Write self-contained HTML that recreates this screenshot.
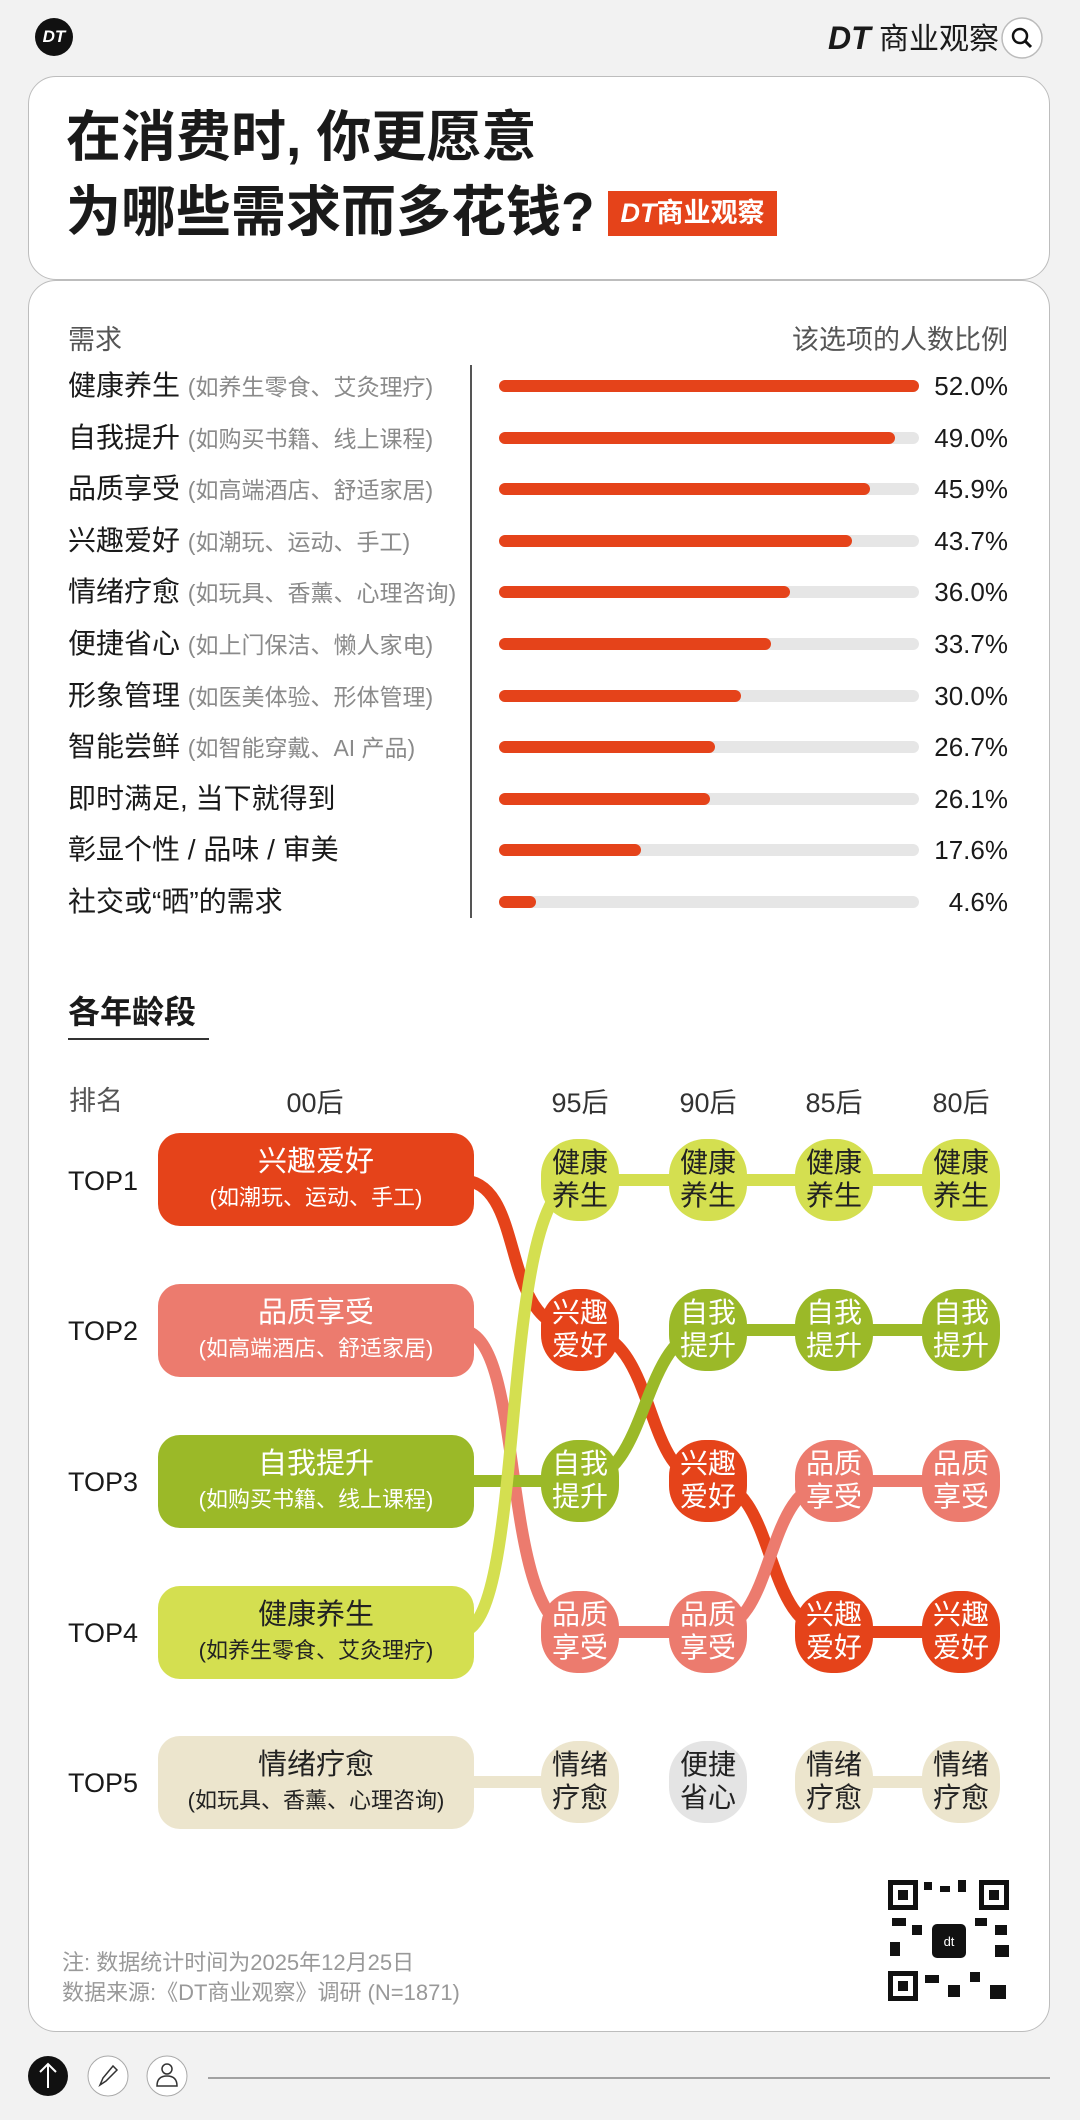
<!DOCTYPE html>
<html><head><meta charset="utf-8"><style>
*{margin:0;padding:0;box-sizing:border-box}
body{width:1080px;height:2120px;background:#f2f2f2;position:relative;overflow:hidden;font-family:"Liberation Sans","Noto Sans CJK SC",sans-serif;color:#1a1a1a}
.a{position:absolute;white-space:nowrap}
.card{position:absolute;left:28px;width:1022px;background:#fff;border:1.5px solid #bdbdbd;border-radius:28px}
.lab{position:absolute;left:68px;font-size:28px;line-height:32px}
.lab small{font-size:23px;color:#8a8a8a}
.trk{position:absolute;left:499px;width:420px;height:12px;background:#e6e6e6;border-radius:6px}
.bar{position:absolute;left:0;top:0;height:12px;background:#e5431a;border-radius:6px}
.val{position:absolute;right:72px;font-size:26px;line-height:30px}
</style></head><body>
<div class="a" style="left:35px;top:18px;width:38px;height:38px;border-radius:50%;background:#111;color:#fff;font-weight:bold;font-style:italic;font-size:17px;line-height:38px;text-align:center">DT</div>
<div class="a" style="left:828px;top:20px;font-size:30px;line-height:36px;font-weight:bold"><i style="font-size:32px">DT</i> <span style="font-weight:normal">商业观察</span></div>
<svg class="a" style="left:1000px;top:16px" width="44" height="44"><circle cx="22" cy="22" r="20" fill="#fff" stroke="#bbb" stroke-width="1.5"/><circle cx="20" cy="20" r="7" fill="none" stroke="#111" stroke-width="2.5"/><line x1="25" y1="25" x2="31" y2="31" stroke="#111" stroke-width="3"/></svg>

<div class="card" style="top:76px;height:204px"></div>
<div class="card" style="top:280px;height:1752px"></div>

<div class="a" style="left:66px;top:106px;font-size:55px;line-height:62px;font-weight:bold">在消费时, 你更愿意</div>
<div class="a" style="left:66px;top:181px;font-size:55px;line-height:62px;font-weight:bold">为哪些需求而多花钱?</div>
<div class="a" style="left:608px;top:191px;width:169px;height:45px;background:#e5431a;color:#fff;font-size:27px;line-height:45px;text-align:center;font-weight:bold"><i>DT</i>商业观察</div>

<div class="a" style="left:68px;top:318px;font-size:27px;color:#555">需求</div>
<div class="a" style="right:72px;top:318px;font-size:27px;color:#555">该选项的人数比例</div>
<div class="a" style="left:470px;top:365px;width:1.5px;height:553px;background:#555"></div>

<div class="lab" style="top:370px">健康养生 <small>(如养生零食、艾灸理疗)</small></div>
<div class="lab" style="top:422px">自我提升 <small>(如购买书籍、线上课程)</small></div>
<div class="lab" style="top:473px">品质享受 <small>(如高端酒店、舒适家居)</small></div>
<div class="lab" style="top:525px">兴趣爱好 <small>(如潮玩、运动、手工)</small></div>
<div class="lab" style="top:576px">情绪疗愈 <small>(如玩具、香薰、心理咨询)</small></div>
<div class="lab" style="top:628px">便捷省心 <small>(如上门保洁、懒人家电)</small></div>
<div class="lab" style="top:680px">形象管理 <small>(如医美体验、形体管理)</small></div>
<div class="lab" style="top:731px">智能尝鲜 <small>(如智能穿戴、AI 产品)</small></div>
<div class="lab" style="top:783px">即时满足, 当下就得到</div>
<div class="lab" style="top:834px">彰显个性 / 品味 / 审美</div>
<div class="lab" style="top:886px">社交或“晒”的需求</div>

<div class="trk" style="top:380px"><div class="bar" style="width:420px"></div></div>
<div class="trk" style="top:432px"><div class="bar" style="width:396px"></div></div>
<div class="trk" style="top:483px"><div class="bar" style="width:371px"></div></div>
<div class="trk" style="top:535px"><div class="bar" style="width:353px"></div></div>
<div class="trk" style="top:586px"><div class="bar" style="width:291px"></div></div>
<div class="trk" style="top:638px"><div class="bar" style="width:272px"></div></div>
<div class="trk" style="top:690px"><div class="bar" style="width:242px"></div></div>
<div class="trk" style="top:741px"><div class="bar" style="width:216px"></div></div>
<div class="trk" style="top:793px"><div class="bar" style="width:211px"></div></div>
<div class="trk" style="top:844px"><div class="bar" style="width:142px"></div></div>
<div class="trk" style="top:896px"><div class="bar" style="width:37px"></div></div>

<div class="val" style="top:371px">52.0%</div>
<div class="val" style="top:423px">49.0%</div>
<div class="val" style="top:474px">45.9%</div>
<div class="val" style="top:526px">43.7%</div>
<div class="val" style="top:577px">36.0%</div>
<div class="val" style="top:629px">33.7%</div>
<div class="val" style="top:681px">30.0%</div>
<div class="val" style="top:732px">26.7%</div>
<div class="val" style="top:784px">26.1%</div>
<div class="val" style="top:835px">17.6%</div>
<div class="val" style="top:887px">4.6%</div>

<div class="a" style="left:68px;top:993px;font-size:32px;font-weight:bold;line-height:38px">各年龄段</div>
<div class="a" style="left:68px;top:1038px;width:141px;height:2px;background:#333"></div>

<svg class="a" style="left:0;top:0" width="1080" height="2120" font-family="Liberation Sans, Noto Sans CJK SC, sans-serif">
<g font-size="27" fill="#333" text-anchor="middle">
<text x="96" y="1110" fill="#555">排名</text>
<text x="315" y="1112">00后</text><text x="580" y="1112">95后</text><text x="708" y="1112">90后</text><text x="834" y="1112">85后</text><text x="961" y="1112">80后</text>
</g>
<g font-size="27" fill="#1a1a1a">
<text x="68" y="1190">TOP1</text><text x="68" y="1340">TOP2</text><text x="68" y="1491">TOP3</text><text x="68" y="1642">TOP4</text><text x="68" y="1792">TOP5</text>
</g>
<g fill="none" stroke-width="12">
<path d="M460 1180 C530 1180,495 1330,580 1330 C660 1330,640 1481,708 1481 C780 1481,760 1632,834 1632 L961 1632" stroke="#e5431a"/>
<path d="M460 1330 C530 1330,495 1632,580 1632 L708 1632 C780 1632,760 1481,834 1481 L961 1481" stroke="#ec7b6e"/>
<path d="M460 1481 L580 1481 C650 1481,640 1330,708 1330 L961 1330" stroke="#9bb928"/>
<path d="M460 1632 C530 1632,495 1180,580 1180 L961 1180" stroke="#d4df50"/>
<path d="M460 1782 L580 1782 M834 1782 L961 1782" stroke="#ece5cd"/>
</g>
<g text-anchor="middle">
<rect x="158" y="1133" width="316" height="93" rx="22" fill="#e5431a"/>
<text x="316" y="1171" font-size="29" fill="#fff">兴趣爱好</text><text x="316" y="1205" font-size="22" fill="#fff">(如潮玩、运动、手工)</text>
<rect x="158" y="1284" width="316" height="93" rx="22" fill="#ec7b6e"/>
<text x="316" y="1322" font-size="29" fill="#fff">品质享受</text><text x="316" y="1356" font-size="22" fill="#fff">(如高端酒店、舒适家居)</text>
<rect x="158" y="1435" width="316" height="93" rx="22" fill="#9bb928"/>
<text x="316" y="1473" font-size="29" fill="#fff">自我提升</text><text x="316" y="1507" font-size="22" fill="#fff">(如购买书籍、线上课程)</text>
<rect x="158" y="1586" width="316" height="93" rx="22" fill="#d4df50"/>
<text x="316" y="1624" font-size="29" fill="#222">健康养生</text><text x="316" y="1658" font-size="22" fill="#222">(如养生零食、艾灸理疗)</text>
<rect x="158" y="1736" width="316" height="93" rx="22" fill="#ece5cd"/>
<text x="316" y="1774" font-size="29" fill="#222">情绪疗愈</text><text x="316" y="1808" font-size="22" fill="#222">(如玩具、香薰、心理咨询)</text>
</g>
<g text-anchor="middle" font-size="28">
<g fill="#d4df50"><rect x="541" y="1139" width="78" height="82" rx="36"/><rect x="669" y="1139" width="78" height="82" rx="36"/><rect x="795" y="1139" width="78" height="82" rx="36"/><rect x="922" y="1139" width="78" height="82" rx="36"/></g>
<g fill="#222"><text x="580" y="1172">健康</text><text x="580" y="1205">养生</text><text x="708" y="1172">健康</text><text x="708" y="1205">养生</text><text x="834" y="1172">健康</text><text x="834" y="1205">养生</text><text x="961" y="1172">健康</text><text x="961" y="1205">养生</text></g>
<g fill="#e5431a"><rect x="541" y="1289" width="78" height="82" rx="36"/><rect x="669" y="1440" width="78" height="82" rx="36"/><rect x="795" y="1591" width="78" height="82" rx="36"/><rect x="922" y="1591" width="78" height="82" rx="36"/></g>
<g fill="#9bb928"><rect x="541" y="1440" width="78" height="82" rx="36"/><rect x="669" y="1289" width="78" height="82" rx="36"/><rect x="795" y="1289" width="78" height="82" rx="36"/><rect x="922" y="1289" width="78" height="82" rx="36"/></g>
<g fill="#ec7b6e"><rect x="541" y="1591" width="78" height="82" rx="36"/><rect x="669" y="1591" width="78" height="82" rx="36"/><rect x="795" y="1440" width="78" height="82" rx="36"/><rect x="922" y="1440" width="78" height="82" rx="36"/></g>
<g fill="#fff">
<text x="580" y="1322">兴趣</text><text x="580" y="1355">爱好</text>
<text x="708" y="1473">兴趣</text><text x="708" y="1506">爱好</text>
<text x="834" y="1624">兴趣</text><text x="834" y="1657">爱好</text>
<text x="961" y="1624">兴趣</text><text x="961" y="1657">爱好</text>
<text x="580" y="1473">自我</text><text x="580" y="1506">提升</text>
<text x="708" y="1322">自我</text><text x="708" y="1355">提升</text>
<text x="834" y="1322">自我</text><text x="834" y="1355">提升</text>
<text x="961" y="1322">自我</text><text x="961" y="1355">提升</text>
<text x="580" y="1624">品质</text><text x="580" y="1657">享受</text>
<text x="708" y="1624">品质</text><text x="708" y="1657">享受</text>
<text x="834" y="1473">品质</text><text x="834" y="1506">享受</text>
<text x="961" y="1473">品质</text><text x="961" y="1506">享受</text>
</g>
<g fill="#ece5cd"><rect x="541" y="1741" width="78" height="82" rx="36"/><rect x="795" y="1741" width="78" height="82" rx="36"/><rect x="922" y="1741" width="78" height="82" rx="36"/></g>
<rect x="669" y="1741" width="78" height="82" rx="36" fill="#e4e4e4"/>
<g fill="#222"><text x="580" y="1774">情绪</text><text x="580" y="1807">疗愈</text><text x="708" y="1774">便捷</text><text x="708" y="1807">省心</text><text x="834" y="1774">情绪</text><text x="834" y="1807">疗愈</text><text x="961" y="1774">情绪</text><text x="961" y="1807">疗愈</text></g>
</g>
<rect x="888" y="1880" width="121" height="121" fill="#fff"/>
<g fill="#111">
<rect x="888" y="1880" width="30" height="30"/><rect x="979" y="1880" width="30" height="30"/><rect x="888" y="1971" width="30" height="30"/>
<rect x="924" y="1882" width="8" height="8"/><rect x="940" y="1886" width="10" height="6"/><rect x="958" y="1880" width="8" height="12"/>
<rect x="892" y="1918" width="14" height="8"/><rect x="912" y="1925" width="10" height="10"/><rect x="975" y="1918" width="12" height="8"/><rect x="995" y="1925" width="12" height="10"/>
<rect x="890" y="1942" width="10" height="14"/><rect x="995" y="1945" width="14" height="12"/><rect x="925" y="1975" width="14" height="8"/><rect x="948" y="1985" width="12" height="12"/><rect x="970" y="1972" width="10" height="10"/><rect x="990" y="1985" width="16" height="14"/>
<rect x="932" y="1924" width="34" height="34" rx="5"/>
</g>
<g fill="#fff"><rect x="893" y="1885" width="20" height="20"/><rect x="984" y="1885" width="20" height="20"/><rect x="893" y="1976" width="20" height="20"/></g>
<g fill="#111"><rect x="898" y="1890" width="10" height="10"/><rect x="989" y="1890" width="10" height="10"/><rect x="898" y="1981" width="10" height="10"/></g>
<text x="949" y="1946" font-size="13" fill="#fff" text-anchor="middle">dt</text>
<g font-size="22" fill="#999"><text x="62" y="1970">注: 数据统计时间为2025年12月25日</text><text x="62" y="2000">数据来源:《DT商业观察》调研 (N=1871)</text></g>
<circle cx="48" cy="2076" r="20" fill="#111"/><path d="M48 2088 V2064 M40 2072 L48 2064 L56 2072" stroke="#fff" stroke-width="2" fill="none"/>
<circle cx="108" cy="2076" r="20" fill="#fff" stroke="#aaa"/><path d="M100 2085 L103 2078 L113 2066 L117 2070 L106 2081 Z" stroke="#333" stroke-width="1.5" fill="none"/>
<circle cx="167" cy="2076" r="20" fill="#fff" stroke="#aaa"/><circle cx="167" cy="2069" r="5" fill="none" stroke="#333" stroke-width="1.5"/><path d="M157 2086 Q157 2076 167 2076 Q177 2076 177 2086 Z" fill="none" stroke="#333" stroke-width="1.5"/>
<line x1="208" y1="2078" x2="1050" y2="2078" stroke="#888" stroke-width="1.5"/>
</svg>
</body></html>
